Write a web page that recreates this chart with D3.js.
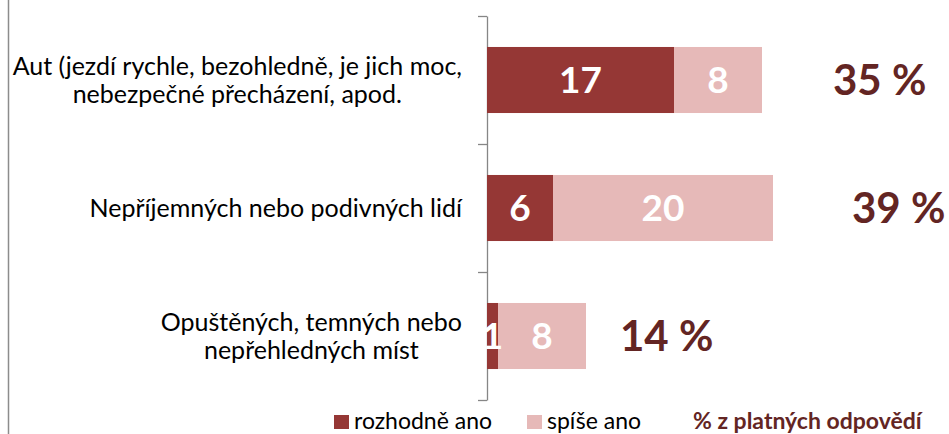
<!DOCTYPE html>
<html>
<head>
<meta charset="utf-8">
<script src="https://cdn.jsdelivr.net/npm/d3@7/dist/d3.min.js"></script>
<style>
  body { margin: 0; background: #fff; }
  svg { display: block; font-family: Lato, "Open Sans", sans-serif; }
</style>
</head>
<body>
<script>
// data
var categories = [
    ["Aut (jezdí rychle, bezohledně, je jich moc,", "nebezpečné přecházení, apod."],
    ["Nepříjemných nebo podivných lidí"],
    ["Opuštěných, temných nebo", "nepřehledných míst"]
];
var rozhodne = [17, 6, 1];
var spise = [8, 20, 8];
var percentLabels = ["35 %", "39 %", "14 %"];
var seriesNames = ["rozhodně ano", "spíše ano"];
var legendNote = "% z platných odpovědí";

// colours / layout
var darkRed = "#953735", pink = "#e6b9b8", noteColor = "#632523";
var width = 949, height = 434;
var pctGap = [71, 79, 34];   // where the % text boxes sit after the bar end

var svg = d3.select("body").append("svg")
    .attr("width", width)
    .attr("height", height);

// left chart border
svg.append("line")
    .attr("x1", 8.5).attr("x2", 8.5)
    .attr("y1", 0).attr("y2", height)
    .attr("stroke", "#8c8c8c")
    .attr("stroke-width", 1.5);

var x = d3.scaleLinear().domain([0, 42]).range([487, 949]);
var y = d3.scaleBand().domain(d3.range(categories.length))
    .range([16, 400])
    .paddingInner(0.484)
    .paddingOuter(0.242);
var yTicks = d3.scaleLinear().domain([0, categories.length]).range([16, 400]);

// axis with ticks between categories
var axis = svg.append("g")
    .attr("transform", "translate(" + x(0) + ",0)")
    .call(d3.axisLeft(yTicks).tickValues([0, 1, 2, 3])
        .tickSize(9).tickSizeOuter(0).tickFormat(""));
axis.selectAll("path, line").attr("stroke", "#868686").attr("stroke-width", 1.3);

// stacked bars
var stack = categories.map(function(c, i) {
    return [{ x0: 0, x1: rozhodne[i], v: rozhodne[i], col: darkRed, row: i },
            { x0: rozhodne[i], x1: rozhodne[i] + spise[i], v: spise[i], col: pink, row: i }];
});

var rows = svg.selectAll(".row")
    .data(stack)
    .enter().append("g")
    .attr("class", "row");

rows.selectAll("rect")
    .data(function(d) { return d; })
    .enter().append("rect")
    .attr("x", function(d) { return x(d.x0); })
    .attr("width", function(d) { return x(d.x1) - x(d.x0); })
    .attr("y", function(d) { return y(d.row); })
    .attr("height", y.bandwidth())
    .attr("fill", function(d) { return d.col; });

rows.selectAll("text.val")
    .data(function(d) { return d; })
    .enter().append("text")
    .attr("class", "val")
    .attr("x", function(d) { return (x(d.x0) + x(d.x1)) / 2; })
    .attr("y", function(d) { return y(d.row) + y.bandwidth() / 2; })
    .attr("dy", "0.36em")
    .attr("text-anchor", "middle")
    .attr("fill", "#fff")
    .style("font-weight", "bold")
    .style("font-size", "37px")
    .text(function(d) { return d.v; });

// percentage notes
svg.selectAll(".pct")
    .data(percentLabels)
    .enter().append("text")
    .attr("class", "pct")
    .attr("x", function(d, i) { return x(rozhodne[i] + spise[i]) + pctGap[i]; })
    .attr("y", function(d, i) { return y(i) + y.bandwidth() / 2; })
    .attr("dy", "0.36em")
    .attr("fill", noteColor)
    .style("font-weight", "bold")
    .style("font-size", "42px")
    .text(function(d) { return d; });

// category labels, wrapped lines centred inside a right-aligned block
var lineH = 28;
categories.forEach(function(lines, i) {
    var g = svg.append("g");
    var cy = y(i) + y.bandwidth() / 2;
    var t = g.selectAll("text")
        .data(lines)
        .enter().append("text")
        .attr("y", function(d, k) { return cy + (k - (lines.length - 1) / 2) * lineH; })
        .attr("dy", "0.35em")
        .attr("text-anchor", "middle")
        .attr("fill", "#000")
        .style("font-size", "25px")
        .text(function(d) { return d; });
    var w = d3.max(t.nodes(), function(n) { return n.getComputedTextLength(); });
    t.attr("x", x(0) - 25 - w / 2);
});

// legend
var legend = svg.append("g");
var legX = [334, 527];
seriesNames.forEach(function(name, i) {
    legend.append("rect")
        .attr("x", legX[i]).attr("y", 415)
        .attr("width", 15).attr("height", 14)
        .attr("fill", i === 0 ? darkRed : pink);
    legend.append("text")
        .attr("x", legX[i] + 20).attr("y", 428.5)
        .style("font-size", "23px")
        .text(name);
});
legend.append("text")
    .attr("x", 693).attr("y", 428.5)
    .attr("fill", noteColor)
    .style("font-weight", "bold")
    .style("font-size", "23px")
    .text(legendNote);
</script>
</body>
</html>
